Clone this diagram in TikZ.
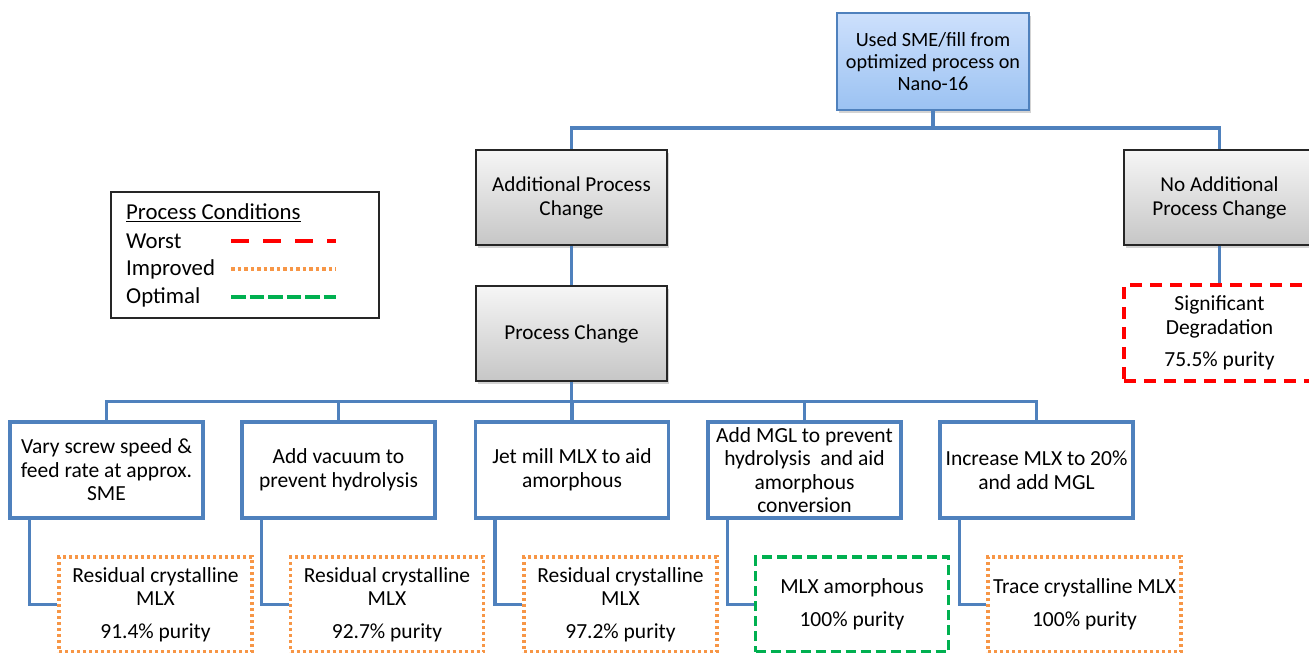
\documentclass[tikz,border=0pt]{standalone}
\usepackage{fontspec}
\setmainfont{Carlito}
\usetikzlibrary{shadows}
\definecolor{accblue}{RGB}{79,129,189}
\definecolor{topfillA}{RGB}{205,224,252}
\definecolor{topfillB}{RGB}{155,194,242}
\definecolor{grayA}{RGB}{246,246,246}
\definecolor{grayB}{RGB}{198,198,198}
\definecolor{worstred}{RGB}{255,0,0}
\definecolor{improvedorange}{RGB}{247,150,70}
\definecolor{optimalgreen}{RGB}{0,176,80}
\tikzset{
  base/.style={rectangle, align=center, font=\fontsize{21.5}{23.5}\selectfont, inner sep=2pt},
  topbox/.style={base, font=\fontsize{20.2}{22}\selectfont, draw=accblue, line width=1.8pt, top color=topfillA, bottom color=topfillB,
    minimum width=192pt, minimum height=97pt,
    drop shadow={opacity=0.35, shadow xshift=2pt, shadow yshift=-3pt}},
  graybox/.style={base, font=\fontsize{21.2}{24}\selectfont, draw=black!85, line width=1.8pt, top color=grayA, bottom color=grayB,
    minimum width=191pt, minimum height=95pt,
    drop shadow={opacity=0.35, shadow xshift=2pt, shadow yshift=-3pt}},
  bluebox/.style={base, draw=accblue, line width=3.2pt, fill=white,
    minimum width=193pt, minimum height=96pt},
  worstbox/.style={base, draw=worstred, line width=3.4pt, dash pattern=on 12pt off 8pt,
    minimum width=191pt, minimum height=96pt},
  improvedbox/.style={base, draw=improvedorange, line width=3.2pt, dash pattern=on 3pt off 3pt,
    minimum width=193pt, minimum height=95pt},
  optimalbox/.style={base, draw=optimalgreen, line width=3.2pt, dash pattern=on 10pt off 5pt,
    minimum width=193pt, minimum height=95pt},
  conn/.style={draw=accblue, line width=3.4pt, line join=miter},
  legendtext/.style={base, font=\fontsize{22.8}{24}\selectfont, anchor=west, inner sep=0pt},
}
\begin{document}
\begin{tikzpicture}[x=1pt,y=-1pt]
\useasboundingbox (0,0) rectangle (1309,653);

% top
\node[topbox] (top) at (933,61.5) {Used SME/fill from\\optimized process on\\Nano-16};
\node[graybox] (add) at (571.5,197.5) {Additional Process\\Change};
\node[graybox] (noadd) at (1219.5,197.5) {No Additional\\Process Change};
\node[graybox] (pc) at (571.5,333.5) {Process Change};
\node[worstbox] (sd) at (1219.5,333) {Significant\\Degradation\\[9pt]75.5\% purity};

% options
\node[bluebox] (b1) at (106.5,470) {Vary screw speed \&\\feed rate at approx.\\SME};
\node[bluebox] (b2) at (338.5,470) {Add vacuum to\\prevent hydrolysis};
\node[bluebox] (b3) at (572,470) {Jet mill MLX to aid\\amorphous};
\node[bluebox] (b4) at (804.5,470) {Add MGL to prevent\\hydrolysis\ \ and aid\\amorphous\\conversion};
\node[bluebox] (b5) at (1036.5,470) {Increase MLX to 20\%\\and add MGL};

% results
\node[improvedbox] (r1) at (155.5,604.5) {Residual crystalline\\MLX\\[9pt]91.4\% purity};
\node[improvedbox] (r2) at (387,604.5) {Residual crystalline\\MLX\\[9pt]92.7\% purity};
\node[improvedbox] (r3) at (620.5,604.5) {Residual crystalline\\MLX\\[9pt]97.2\% purity};
\node[optimalbox] (r4) at (852,604.5) {MLX amorphous\\[9pt]100\% purity};
\node[improvedbox] (r5) at (1084.5,604.5) {Trace crystalline MLX\\[9pt]100\% purity};

% connectors
\coordinate (j1) at (933,128);
\coordinate (j2) at (571.5,401.5);
\draw[conn] (top.south) -- (j1);
\draw[conn] (add.north) |- (j1) -| (noadd.north);
\draw[conn] (add.south) -- (pc.north);
\draw[conn] (noadd.south) -- (sd.north);
\draw[conn] (pc.south) -- (j2);
\draw[conn] (b1.north) |- (j2) -| (b5.north);
\draw[conn] (b2.north) -- (b2.north |- j2);
\draw[conn] (b3.north) -- (b3.north |- j2);
\draw[conn] (b4.north) -- (b4.north |- j2);
\foreach \i in {1,...,5} {
  \draw[conn] ([xshift=21pt]b\i.south west) |- (r\i.west);
}

% legend
\node[draw=black!85, line width=1.8pt, minimum width=268pt, minimum height=126pt] (legend) at (245,255) {};
\node[legendtext] (lt) at (126,213) {\underline{Process Conditions}};
\node[legendtext] (lw) at (126,241) {Worst};
\node[legendtext] (li) at (126,269) {Improved};
\node[legendtext] (lo) at (126,297) {Optimal};
\draw[worstred, line width=4.5pt, dash pattern=on 18pt off 14pt] (231,241) -- (336,241);
\draw[improvedorange, line width=3.8pt, dash pattern=on 3.5pt off 3pt] (231,269) -- (336,269);
\draw[optimalgreen, line width=4.5pt, dash pattern=on 14.5pt off 4pt] (231,297) -- (336,297);
\end{tikzpicture}
\end{document}
